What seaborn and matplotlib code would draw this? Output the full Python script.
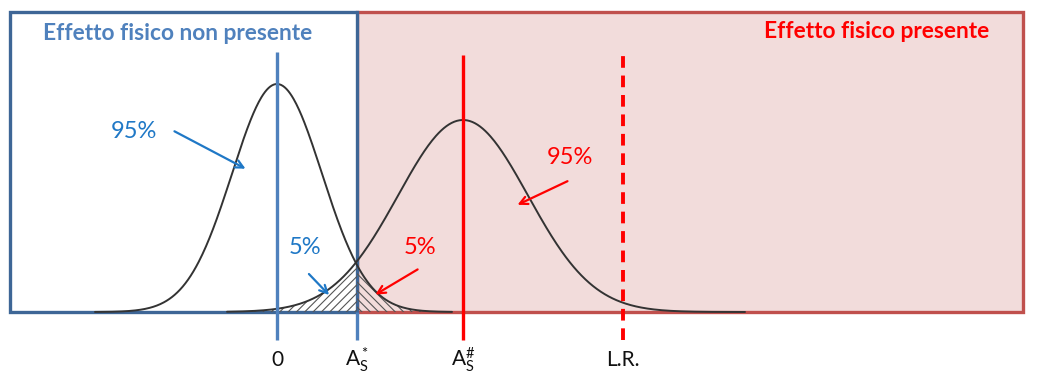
import numpy as np
import matplotlib.pyplot as plt
import seaborn as sns
import pandas as pd
from matplotlib.patches import Rectangle

# Distributions (x in px from the "0" mark, y in px above the baseline)
curve_names = ["null", "alt"]
curve_means = [0, 186]
curve_sigmas = [45, 65]
curve_peaks = [228, 192]
curve_ranges = [(-182, 175), (-50, 468)]

# Vertical marks
mark_labels = ["0", r"$\mathregular{A_S^*}$", r"$\mathregular{A_S^\#}$", "L.R."]
mark_x = [0, 80, 186, 346]

# Region boxes
left_box = (-267, 80, 300)
right_box = (80, 746, 300)

# Percent annotations: text, text pos, arrow tail, arrow tip, colour
pct_texts = ["95%", "95%", "5%", "5%"]
pct_text_xy = [(-143, 181), (293, 154), (28, 64), (143, 65)]
pct_tail_xy = [(-105, 182), (293, 132), (30, 40), (143, 44)]
pct_tip_xy = [(-29, 142), (238, 106), (54, 15), (96, 16)]
pct_colors = ["#1F78C6", "#FF0000", "#1F78C6", "#FF0000"]

BLUE = "#4F81BD"
DARK_BLUE = "#3E6696"
RED = "#FF0000"
BOX_RED = "#C0504D"
PINK = "#F2DCDB"

sns.set_theme(style="white")
plt.rcParams["font.family"] = ["Lato", "DejaVu Sans"]
plt.rcParams["mathtext.fontset"] = "custom"
plt.rcParams["mathtext.rm"] = "Lato"
plt.rcParams["mathtext.it"] = "Lato:italic"
plt.rcParams["hatch.linewidth"] = 0.8

fig = plt.figure(figsize=(10.63, 3.73), dpi=100)
ax = fig.add_axes([0, 0, 1, 1])
ax.set_xlim(-277, 786)
ax.set_ylim(-61, 312)
ax.axis("off")

# boxes
ax.add_patch(Rectangle((right_box[0], 0), right_box[1] - right_box[0], right_box[2],
                       facecolor=PINK, edgecolor=BOX_RED, lw=2.4, zorder=0))
ax.add_patch(Rectangle((left_box[0], 0), left_box[1] - left_box[0], left_box[2],
                       facecolor="white", edgecolor=DARK_BLUE, lw=2.4, zorder=1))

# curves
frames = []
for name, mu, sd, pk, (lo, hi) in zip(curve_names, curve_means, curve_sigmas, curve_peaks, curve_ranges):
    x = np.linspace(lo, hi, 400)
    y = pk * np.exp(-0.5 * ((x - mu) / sd) ** 2)
    frames.append(pd.DataFrame({"x": x, "y": y, "curve": name}))
df = pd.concat(frames)
sns.lineplot(data=df, x="x", y="y", units="curve", estimator=None, color="#333333",
             lw=1.4, ax=ax, zorder=3, sort=False)

# hatched tails around A_S*
thr = mark_x[1]
xl = np.linspace(curve_ranges[1][0], thr, 200)
yl = curve_peaks[1] * np.exp(-0.5 * ((xl - curve_means[1]) / curve_sigmas[1]) ** 2)
ax.fill_between(xl, 0, yl, facecolor="none", edgecolor="#555555", hatch="////", lw=0, zorder=2)
xr = np.linspace(thr, curve_ranges[0][1], 200)
yr = curve_peaks[0] * np.exp(-0.5 * ((xr - curve_means[0]) / curve_sigmas[0]) ** 2)
ax.fill_between(xr, 0, yr, facecolor="none", edgecolor="#555555", hatch="\\\\\\\\", lw=0, zorder=2)

# baseline axis with arrow
ax.annotate("", xy=(790, 0), xytext=(-267, 0),
            arrowprops=dict(arrowstyle="-|>", color=BLUE, lw=2.4, mutation_scale=12),
            zorder=4)

# vertical lines
ax.vlines(mark_x[0], -28, 260, color=BLUE, lw=2.4, zorder=4)
ax.vlines(mark_x[1], -28, 0, color=BLUE, lw=2.4, zorder=4)
ax.vlines(mark_x[2], -28, 257, color=RED, lw=2.4, zorder=4)
ax.vlines(mark_x[3], -28, 257, color=RED, lw=2.8, linestyles=(0, (3, 2)), zorder=4)

for lab, x in zip(mark_labels, mark_x):
    ax.text(x, -48, lab, ha="center", va="center", fontsize=15, color="#111111")

# region titles
ax.text(-99, 278, "Effetto fisico non presente", ha="center", va="center",
        fontsize=16.4, fontweight="bold", color=BLUE)
ax.text(600, 280, "Effetto fisico presente", ha="center", va="center",
        fontsize=16.4, fontweight="bold", color=RED)

# percentage annotations
for t, txy, tail, tip, c in zip(pct_texts, pct_text_xy, pct_tail_xy, pct_tip_xy, pct_colors):
    ax.text(txy[0], txy[1], t, ha="center", va="center", fontsize=17, color=c, zorder=6)
    ax.annotate("", xy=tip, xytext=tail,
                arrowprops=dict(arrowstyle="->", color=c, lw=1.6, mutation_scale=14),
                zorder=6)

fig.savefig("out.png", dpi=100)
